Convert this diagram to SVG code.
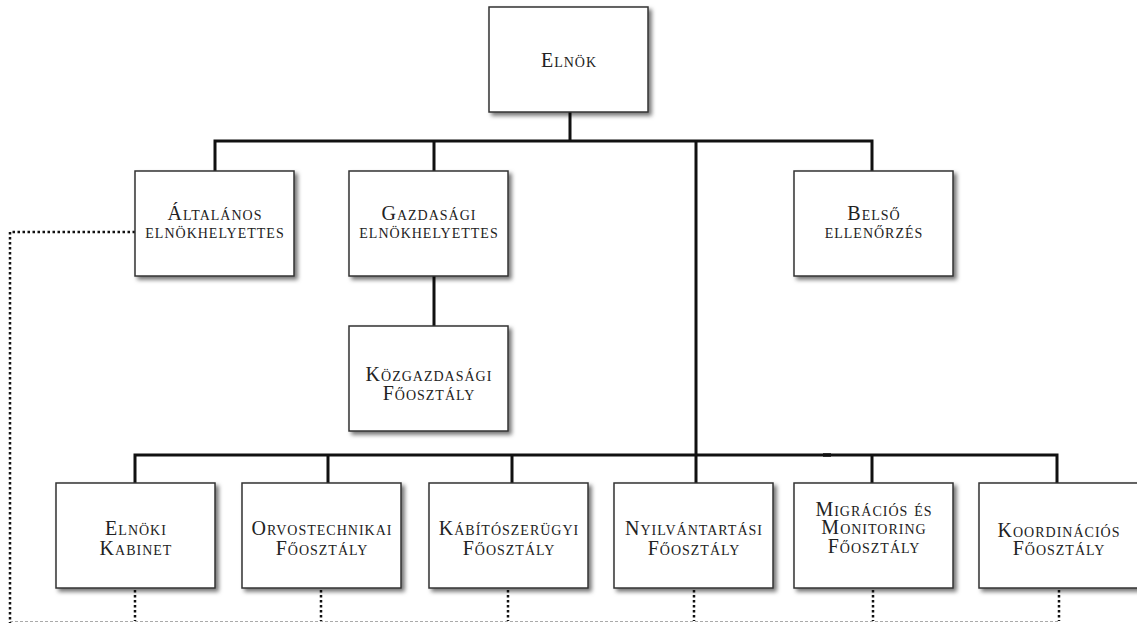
<svg xmlns="http://www.w3.org/2000/svg" width="1137" height="623" viewBox="0 0 1137 623">
  <defs>
    <filter id="sh" x="-10%" y="-10%" width="130%" height="130%">
      <feDropShadow dx="3" dy="3" stdDeviation="2" flood-color="#000" flood-opacity="0.55"/>
    </filter>
    <style>
      .box { fill: #fff; stroke: #333; stroke-width: 1.5; filter: url(#sh); }
      .lbl { font-family: "Liberation Serif", "Times New Roman", serif; font-size: 20px; font-variant: small-caps; letter-spacing: 1px; fill: #222; text-anchor: middle; }
      .solid { fill: none; stroke: #111; stroke-width: 3; }
      .dot { fill: none; stroke: #111; stroke-width: 2.5; stroke-dasharray: 2.5 2.5; }
      .thin { fill: none; stroke: #aaa; stroke-width: 1; stroke-dasharray: 3 2; }
    </style>
  </defs>
  <rect width="1137" height="623" fill="#fff"/>

  <g id="connectors">
    <path class="solid" d="M570 112 V141 M215 171 V141 H872 V171 M434 141 V171 M434 276 V326 M696 141 V483"/>
    <path class="solid" d="M135 483 V455 H1057 V483 M328 455 V483 M512 455 V483 M872 455 V483"/>
    <path d="M823 455 H831" stroke="#111" stroke-width="3.5"/>
    <path class="dot" d="M135 232 H10 V623"/>
    <path class="dot" d="M135 590 V621 M321 590 V621 M508 590 V621 M694 590 V621 M873 590 V621 M1059 590 V621"/>
    <path class="thin" d="M10 621.5 H1060"/>
  </g>

  <g id="elnok">
    <rect class="box" x="489" y="7" width="159" height="105"/>
    <text class="lbl" x="569" y="67">Elnök</text>
  </g>
  <g id="altalanos">
    <rect class="box" x="135" y="171" width="159" height="105"/>
    <text class="lbl" x="215" y="220">Általános</text>
    <text class="lbl" x="215" y="238">elnökhelyettes</text>
  </g>
  <g id="gazdasagi">
    <rect class="box" x="349" y="171" width="159" height="105"/>
    <text class="lbl" x="429" y="220">Gazdasági</text>
    <text class="lbl" x="429" y="238">elnökhelyettes</text>
  </g>
  <g id="belso">
    <rect class="box" x="794" y="171" width="159" height="105"/>
    <text class="lbl" x="874" y="220">Belső</text>
    <text class="lbl" x="874" y="238">ellenőrzés</text>
  </g>
  <g id="kozgazdasagi">
    <rect class="box" x="349" y="326" width="159" height="105"/>
    <text class="lbl" x="429" y="381">Közgazdasági</text>
    <text class="lbl" x="429" y="400">Főosztály</text>
  </g>
  <g id="elnoki-kabinet">
    <rect class="box" x="56" y="483" width="159" height="105"/>
    <text class="lbl" x="136" y="535">Elnöki</text>
    <text class="lbl" x="136" y="555">Kabinet</text>
  </g>
  <g id="orvostechnikai">
    <rect class="box" x="242" y="483" width="159" height="105"/>
    <text class="lbl" x="322" y="535">Orvostechnikai</text>
    <text class="lbl" x="322" y="555">Főosztály</text>
  </g>
  <g id="kabitoszerugyi">
    <rect class="box" x="429" y="483" width="159" height="105"/>
    <text class="lbl" x="509" y="535">Kábítószerügyi</text>
    <text class="lbl" x="509" y="555">Főosztály</text>
  </g>
  <g id="nyilvantartasi">
    <rect class="box" x="614" y="483" width="159" height="105"/>
    <text class="lbl" x="694" y="535">Nyilvántartási</text>
    <text class="lbl" x="694" y="555">Főosztály</text>
  </g>
  <g id="migracios">
    <rect class="box" x="794" y="483" width="159" height="105"/>
    <text class="lbl" x="874" y="516">Migrációs és</text>
    <text class="lbl" x="874" y="534">Monitoring</text>
    <text class="lbl" x="874" y="553">Főosztály</text>
  </g>
  <g id="koordinacios">
    <rect class="box" x="979" y="483" width="159" height="105"/>
    <text class="lbl" x="1059" y="537">Koordinációs</text>
    <text class="lbl" x="1059" y="555">Főosztály</text>
  </g>
</svg>
